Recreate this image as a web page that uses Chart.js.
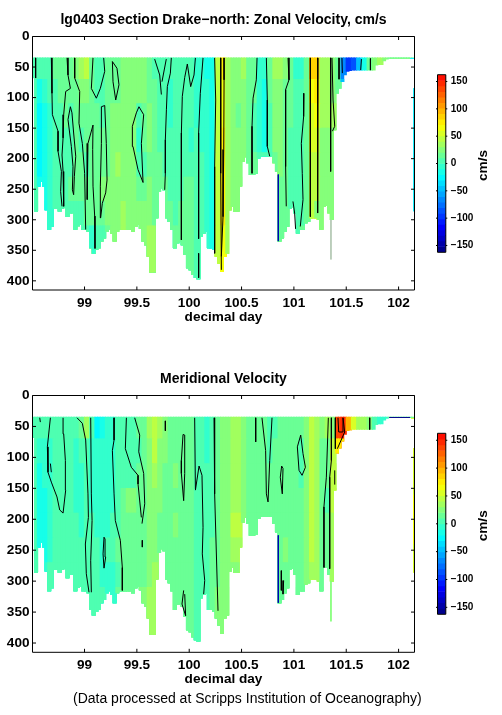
<!DOCTYPE html>
<html><head><meta charset="utf-8">
<style>
html,body{margin:0;padding:0;background:#fff;width:502px;height:715px;overflow:hidden}
canvas{position:absolute;display:block}
#note{position:absolute;left:73px;top:690px;font:14px "Liberation Sans",sans-serif;color:#000;white-space:nowrap}
</style>
<script src="https://cdn.jsdelivr.net/npm/chart.js@4"></script>
</head><body>
<canvas id="p1" style="left:0;top:0;width:416px;height:330px" width="416" height="330"></canvas>
<canvas id="c1" style="left:430px;top:60px;width:72px;height:210px" width="72" height="210"></canvas>
<canvas id="p2" style="left:0;top:359px;width:416px;height:334px" width="416" height="334"></canvas>
<canvas id="c2" style="left:430px;top:420px;width:72px;height:210px" width="72" height="210"></canvas>
<div id="note">(Data processed at Scripps Institution of Oceanography)</div>
<script>
const FONT='"Liberation Sans", sans-serif';
const dayTicks=[99,99.5,100,100.5,101,101.5,102];
const depthTicks=[0,50,100,150,200,250,300,350,400];
const barTicks=[-150,-100,-50,0,50,100,150];
const rowTops=[35,70,110,150,190,230,270,310];
const firstDay=98.5, cellDay=0.025, valueDay=0.05;
// deepest good depth for each 0.025 day column
const bottomDepth=[68,286,245,237,245,284,316,311,281,281,286,281,279,295,289,289,316,310,308,316,316,319,346,355,349,346,335,330,319,316,322,335,319,316,316,316,316,316,319,311,308,314,335,341,360,386,386,297,254,248,251,297,303,316,346,338,335,341,357,379,382,390,395,397,327,322,319,346,346,349,360,371,385,360,355,284,278,286,286,245,205,197,207,226,226,224,199,196,196,196,196,196,207,221,335,330,319,311,281,279,289,322,316,316,305,303,297,297,297,300,316,278,277,289,300,153,93,85,74,63,57,56,55,55,55,55,55,55,55,55,55,47,46,46,40,37,36,36,36,36,36,36,36,36,36,36];
// Zonal velocity, cm/s: one row per depth band, one value per 0.05 day
const zonal0=[5,5,5,5,15,15,15,15,25,35,45,15,5,5,15,15,15,25,25,25,25,25,15,5,5,5,5,5,5,5,5,-5,-5,-15,-15,45,75,35,25,25,35,15,15,-5,-5,15,35,35,25,15,-5,-5,15,85,85,35,35,25,15,-65,-95,-85,-45,-15,15,25,35,25,15,15,15,15,15,-25];
const zonal1=[5,-15,-5,5,5,15,15,15,15,25,25,15,5,5,15,15,15,25,25,25,25,25,15,15,5,5,-5,5,5,5,5,-5,-5,-5,-15,45,70,35,25,25,25,15,15,-5,-15,15,25,25,15,15,5,5,15,65,75,35,35,25,15,-45];
const zonal2=[5,-25,-15,-5,5,5,15,5,15,15,15,15,15,5,15,25,25,25,25,25,5,15,25,15,5,5,-5,5,5,5,5,-5,-5,-5,-15,45,70,35,25,15,25,15,5,-5,-15,5,25,25,15,15,5,5,15,55,65,35,35,35];
const zonal3=[5,-25,-15,-5,5,5,5,5,15,5,15,15,15,15,15,25,25,25,25,25,-5,15,25,15,5,5,5,5,5,5,-5,5,-5,-5,-15,45,75,35,25,25,25,15,5,-5,-15,5,25,25,15,5,5,5,15,55,55,25,25,25];
const zonal4=[5,-25,-15,-5,5,5,5,5,15,15,5,15,15,15,15,25,35,25,25,25,5,5,15,15,15,5,5,5,5,5,5,5,5,-5,-15,45,75,35,25,25,25,15,15,5,5,5,15,25,15,5,5,5,15,45,45,25,25,25];
const zonal5=[5,-15,-15,-5,5,5,5,15,15,15,15,15,15,25,25,25,25,25,25,25,15,15,25,15,15,15,5,5,5,15,15,5,5,-5,-15,45,75,35,25,25,25,25,25,15,15,15,15,15,15,5,5,5,15,45,45,25,25,25];
const zonal6=[5,-15,-15,-5,5,5,5,5,5,5,15,15,15,15,25,25,25,35,25,25,25,25,25,15,15,15,15,5,15,15,15,5,5,-5,-15,45,75,35,25,25,25,25,25,15,15,15,15,15,15,5,5,5,15,45,25,25,25,25];
const zonal7=[5,-15,-15,-5,5,5,5,5,5,5,5,-5,5,5,15,25,25,35,25,25,25,25,35,35,25,15,15,15,15,15,15,5,5,-5,-15,45,65,35,25,25,25,25,25,15,15,15,15,15,15,15,5,15,15,45,25,25,25,25];
// Meridional velocity, cm/s
const merid0=[5,5,5,5,5,5,5,5,5,15,35,5,-25,-15,-5,-5,5,5,5,5,15,15,35,45,35,25,15,15,15,15,15,5,5,-5,5,15,25,25,35,35,25,15,15,15,15,5,5,15,15,15,15,15,25,45,35,25,35,25,135,150,95,55,35,35,25,5,-5,-5,15,15,15,15,15,45];
const merid1=[5,-5,-5,-5,5,5,5,5,-5,5,5,-5,-5,-5,-5,-5,5,5,5,5,5,15,25,45,25,25,15,15,15,15,15,5,5,-5,5,15,25,25,35,35,25,15,15,15,15,5,15,15,15,15,15,5,25,45,35,15,15,45,75,75];
const merid2=[5,-15,-5,-5,5,5,5,5,-5,-5,5,-5,-5,-5,-5,-5,5,5,5,5,15,15,25,35,25,15,15,25,15,15,15,5,5,5,5,15,25,25,35,35,25,15,15,15,15,15,15,15,15,15,15,5,25,45,35,15,15,45];
const merid3=[5,-15,-15,-5,5,5,5,5,-5,-5,5,-5,-5,-5,-5,-5,5,15,25,25,15,15,25,25,25,15,15,15,15,15,15,5,5,5,5,15,25,25,35,35,25,15,15,15,15,15,15,15,15,15,15,15,25,45,35,15,5,45];
const merid4=[5,-15,-15,-5,5,5,5,5,5,-5,5,5,-5,-5,-5,5,5,15,15,15,15,15,25,25,15,15,15,25,15,15,15,5,5,5,5,15,25,25,45,45,25,15,15,15,15,15,15,15,15,15,15,15,25,45,35,15,15,35];
const merid5=[5,-15,-15,-5,5,5,5,5,5,5,5,5,5,-5,5,5,15,15,15,15,15,15,25,25,15,15,15,15,15,15,15,5,5,5,15,15,25,25,35,35,25,15,15,15,15,15,15,15,25,15,15,15,25,45,35,15,15,35];
const merid6=[5,-5,-5,5,5,5,5,5,5,5,5,5,5,-5,-5,-5,5,15,15,15,15,15,25,35,25,15,15,15,15,15,15,5,5,5,15,15,25,25,25,25,25,25,15,15,15,15,15,15,15,15,15,15,25,35,35,15,15,35];
const merid7=[5,-5,-5,5,5,5,5,5,5,5,5,5,5,5,-5,-5,15,15,15,15,25,25,35,35,25,15,15,15,15,15,15,5,5,5,15,25,25,25,25,25,25,25,15,15,15,15,15,15,15,15,15,15,25,35,35,15,15,15];
// Contour lines as [day, depth] pairs
const zonalContours=[
[[98.533,35],[98.533,68]],
[[98.683,35],[98.689,93],[98.693,128],[98.747,155],[98.747,188],[98.779,221],[98.772,254],[98.785,278]],
[[98.833,35],[98.842,63],[98.865,85],[98.82,90],[98.801,128],[98.795,166],[98.785,194],[98.795,221],[98.801,278]],
[[98.865,115],[98.842,136],[98.874,180],[98.89,213],[98.884,251],[98.896,259],[98.903,229],[98.916,196],[98.896,158],[98.88,125],[98.865,115]],
[[98.906,35],[98.906,68],[98.954,90],[98.947,142],[98.979,175],[99.001,224],[99.011,316]],
[[99.081,35],[99.065,85],[99.113,101],[99.151,85],[99.193,57],[99.183,35]],
[[99.266,41],[99.31,52],[99.329,79],[99.298,104],[99.272,74],[99.266,41]],
[[99.081,145],[99.033,175],[99.024,224],[99.027,267]],
[[99.081,145],[99.078,185],[99.081,245],[99.097,294],[99.1,347]],
[[99.161,115],[99.193,113],[99.208,175],[99.215,235],[99.202,256],[99.17,273],[99.154,297],[99.151,245],[99.161,175],[99.161,115]],
[[99.52,115],[99.565,128],[99.543,175],[99.559,239],[99.511,218],[99.463,180],[99.457,147],[99.495,125],[99.52,115]],
[[99.67,37],[99.718,63],[99.734,95]],
[[99.781,37],[99.74,74]],
[[99.829,35],[99.82,60],[99.791,82],[99.782,120],[99.772,169],[99.772,224],[99.766,251]],
[[100.059,35],[100.046,63],[100.014,82],[99.982,45],[99.957,67],[99.934,98],[99.925,158],[99.925,333]],
[[100.132,35],[100.106,93],[100.09,158],[100.09,331]],
[[100.09,355],[100.09,395]],
[[100.243,35],[100.253,104],[100.243,213],[100.243,355]],
[[100.301,35],[100.301,224],[100.307,382]],
[[100.333,35],[100.333,71],[100.33,185],[100.323,295],[100.307,360]],
[[100.648,35],[100.641,71],[100.61,101],[100.6,147],[100.6,224]],
[[100.737,35],[100.746,104],[100.746,180],[100.769,196]],
[[100.944,35],[100.953,71],[100.921,87],[100.921,213],[100.927,278]],
[[101.096,93],[101.093,131],[101.071,175],[101.08,224],[101.087,267],[101.061,311]],
[[100.991,270],[101.007,289],[101.016,315]],
[[101.157,35],[101.157,295]],
[[101.23,35],[101.23,93],[101.224,289]],
[[101.351,35],[101.351,221]],
[[101.364,35],[101.374,104],[101.39,147],[101.368,155]],
[[101.431,35],[101.431,70]],
[[101.459,35],[101.463,60]],
[[101.645,37],[101.638,55]],
[[101.731,36],[101.731,55]]
];
const meridContours=[
[[98.572,36],[98.578,43]],
[[98.674,36],[98.645,83],[98.651,124],[98.683,140],[98.737,164],[98.763,185],[98.795,190],[98.82,153],[98.817,105],[98.801,62],[98.795,36]],
[[98.683,124],[98.674,110]],
[[98.928,36],[98.979,45],[99.011,72],[99.033,159],[99.037,197],[99.008,240],[99.017,288],[99.043,318]],
[[99.059,36],[99.065,159],[99.072,202],[99.059,267],[99.065,318]],
[[99.282,36],[99.282,72],[99.266,89],[99.282,159],[99.294,202],[99.342,234],[99.361,278],[99.361,315]],
[[99.4,36],[99.39,86],[99.447,116],[99.511,129],[99.511,143],[99.543,197]],
[[99.479,36],[99.527,64],[99.518,91],[99.565,126],[99.575,175],[99.549,207]],
[[99.552,234],[99.552,245]],
[[99.186,229],[99.177,256],[99.186,279],[99.202,261],[99.196,232],[99.186,229]],
[[99.772,41],[99.772,57]],
[[99.941,63],[99.925,105],[99.925,126],[99.947,170],[99.957,126],[99.957,64],[99.941,63]],
[[100.052,36],[100.059,151]],
[[100.059,153],[100.094,114],[100.122,129],[100.132,213],[100.125,256],[100.148,299],[100.138,321]],
[[100.237,36],[100.243,159],[100.275,348]],
[[99.947,315],[99.931,337],[99.966,356],[99.957,321]],
[[100.635,36],[100.635,75]],
[[100.695,36],[100.73,89],[100.737,159],[100.753,172],[100.769,105],[100.791,36]],
[[101.065,64],[101.033,83],[101.049,121],[101.078,129],[101.11,116],[101.087,94],[101.065,64]],
[[100.883,114],[100.87,132],[100.889,159],[100.896,118],[100.883,114]],
[[101.329,36],[101.31,132],[101.287,180],[101.287,278]],
[[101.358,36],[101.358,105],[101.342,132],[101.342,280]],
[[101.396,36],[101.396,86]],
[[101.39,144],[101.39,121]],
[[101.469,36],[101.485,59],[101.415,86]],
[[101.421,36],[101.428,59],[101.463,59],[101.469,36]],
[[101.724,36],[101.724,55]],
[[100.88,283],[100.88,315]],
[[100.902,299],[100.896,321]]
];
// Thin edge traces along the section: points and colour
const zonalEdges=[
{pts:[[100.851,226],[100.851,335]],color:'#0000b4'},
{pts:[[101.354,300],[101.354,365]],color:'#b4c8b4'},
{pts:[[102.143,85],[102.143,286]],color:'#19f0ff'},
{pts:[[102.11,36],[102.15,36]],color:'#19f0ff'},
{pts:[[101.91,35.5],[102.11,35.5]],color:'#7fff7f'}
];
const meridEdges=[
{pts:[[100.851,226],[100.851,335]],color:'#0000b4'},
{pts:[[101.354,300],[101.354,365]],color:'#85ff7a'},
{pts:[[102.143,85],[102.143,160]],color:'#d9ff26'},
{pts:[[102.143,160],[102.143,240]],color:'#f5ff0a'},
{pts:[[102.143,240],[102.143,286]],color:'#d9ff26'},
{pts:[[102.12,37],[102.15,37]],color:'#d9ff26'},
{pts:[[101.91,35.5],[102.11,35.5]],color:'#00008e'}
];

function colorOf(v){
  const idx=Math.max(0,Math.min(31,Math.floor((v+162)/10.125)));
  const t=(idx+.5)/32*.875;
  const c=x=>Math.round(255*Math.max(0,Math.min(1,1.5-Math.abs(4*t-x))));
  return `rgb(${c(3)},${c(2)},${c(1)})`;
}
const frame={id:'frame',afterDatasetsDraw(ch,a,o){
  const {left:l,right:r,top:t,bottom:b}=ch.chartArea,c=ch.ctx,x=ch.scales.x,y=ch.scales.y,n=o.len;
  c.save();c.strokeStyle='#000';c.lineWidth=1;c.beginPath();
  c.rect(l,t,r-l,b-t);
  dayTicks.forEach(v=>{const p=x.getPixelForValue(v);c.moveTo(p,b);c.lineTo(p,b-n);c.moveTo(p,t);c.lineTo(p,t+n);});
  depthTicks.forEach(v=>{const p=y.getPixelForValue(v);c.moveTo(l,p);c.lineTo(l+n,p);c.moveTo(r,p);c.lineTo(r-n,p);});
  c.stroke();c.restore();
}};
function panel(id,title,rows,contours,edges,xh,titlePad){
  const sets=[];
  rows.forEach((row,r)=>{
    const data=[],colors=[];
    bottomDepth.forEach((bd,k)=>{
      if(bd<=rowTops[r])return;
      const day=firstDay+cellDay*(k+.5);
      const j=Math.floor(cellDay*(k+.01)/valueDay);
      if(row[j]===undefined)return;
      data.push({x:day,y:[rowTops[r],bd]});colors.push(colorOf(row[j]));
    });
    sets.push({type:'bar',data,backgroundColor:colors,barThickness:3.2,borderWidth:0,grouped:false,order:100-r});
  });
  edges.forEach(e=>sets.push({type:'line',data:e.pts.map(p=>({x:p[0],y:p[1]})),borderColor:e.color,borderWidth:1,pointRadius:0,tension:0,order:2}));
  contours.forEach(cn=>sets.push({type:'line',data:cn.map(p=>({x:p[0],y:p[1]})),borderColor:'#000',borderWidth:1,pointRadius:0,tension:0,order:1}));
  new Chart(document.getElementById(id),{type:'bar',data:{datasets:sets},plugins:[frame],options:{
    responsive:false,animation:false,events:[],
    layout:{padding:{left:0,right:1.5,top:0,bottom:0}},
    plugins:{legend:{display:false},tooltip:{enabled:false},frame:{len:3.5},
      title:{display:true,text:title,fullSize:false,color:'#000',font:{family:FONT,size:14,weight:'bold',lineHeight:1},padding:titlePad}},
    scales:{
      x:{type:'linear',offset:false,min:98.503,max:102.152,grid:{display:false,drawTicks:false},border:{display:false},
        afterBuildTicks:s=>{s.ticks=dayTicks.map(v=>({value:v}));},
        afterFit:s=>{s.height=xh;},
        ticks:{color:'#000',padding:5,maxRotation:0,autoSkip:false,font:{family:FONT,size:13.6,weight:'bold'},callback:v=>String(v)},
        title:{display:true,text:'decimal day',color:'#000',font:{family:FONT,size:13.6,weight:'bold',lineHeight:1},padding:{top:0,bottom:xh-34}}},
      y:{type:'linear',reverse:true,min:0,max:415,grid:{display:false,drawTicks:false},border:{display:false},
        afterBuildTicks:s=>{s.ticks=depthTicks.map(v=>({value:v}));},
        afterFit:s=>{s.width=32.5;},
        ticks:{color:'#000',padding:3,autoSkip:false,font:{family:FONT,size:13.6,weight:'bold'},callback:v=>String(v)}}
    }}});
}
const barFrame={id:'barFrame',afterDatasetsDraw(ch){
  const {left:l,right:r,top:t,bottom:b}=ch.chartArea,c=ch.ctx,y=ch.scales.y;
  c.save();c.strokeStyle='#000';c.lineWidth=1;c.beginPath();c.rect(l,t,r-l,b-t);
  barTicks.forEach(v=>{const p=y.getPixelForValue(v);c.moveTo(l-1.5,p);c.lineTo(l,p);c.moveTo(r,p);c.lineTo(r+1.5,p);});
  c.stroke();
  c.fillStyle='#000';c.font='bold 13.6px '+FONT;c.textAlign='center';c.textBaseline='middle';
  c.translate(r+37.5,(t+b)/2+2);c.rotate(-Math.PI/2);c.fillText('cm/s',0,0);c.restore();
}};
function colorbar(id,top,bottom){
  const levels=[...Array(32).keys()];
  const data=levels.map(i=>({x:0,y:[-162+i*10.125,-162+(i+1)*10.125]}));
  const colors=levels.map(i=>colorOf(-162+(i+.5)*10.125));
  new Chart(document.getElementById(id),{type:'bar',data:{datasets:[{data,backgroundColor:colors,barThickness:9,grouped:false,borderWidth:0}]},plugins:[barFrame],options:{
    responsive:false,animation:false,events:[],
    layout:{padding:{left:7.5,right:0,top:top,bottom:bottom}},
    plugins:{legend:{display:false},tooltip:{enabled:false}},
    scales:{
      x:{type:'linear',offset:false,min:-.5,max:.5,display:false},
      y:{type:'linear',position:'right',min:-162.5,max:162.5,grid:{display:false,drawTicks:false},border:{display:false},
        afterBuildTicks:s=>{s.ticks=barTicks.map(v=>({value:v}));},
        afterFit:s=>{s.width=72-7.5-8.3;},
        ticks:{color:'#000',padding:5,autoSkip:false,font:{family:FONT,size:10,weight:'bold'},callback:v=>String(v).replace('-','\u2212')}}
    }}});
}
panel('p1','lg0403 Section Drake\u2212north: Zonal Velocity, cm/s',[zonal0,zonal1,zonal2,zonal3,zonal4,zonal5,zonal6,zonal7],zonalContours,zonalEdges,40,{top:13,bottom:9.5});
panel('p2','Meridional Velocity',[merid0,merid1,merid2,merid3,merid4,merid5,merid6,merid7],meridContours,meridEdges,40.7,{top:13,bottom:9.5});
colorbar('c1',14.7,17.7);
colorbar('c2',13.3,15.7);
</script>
</body></html>
